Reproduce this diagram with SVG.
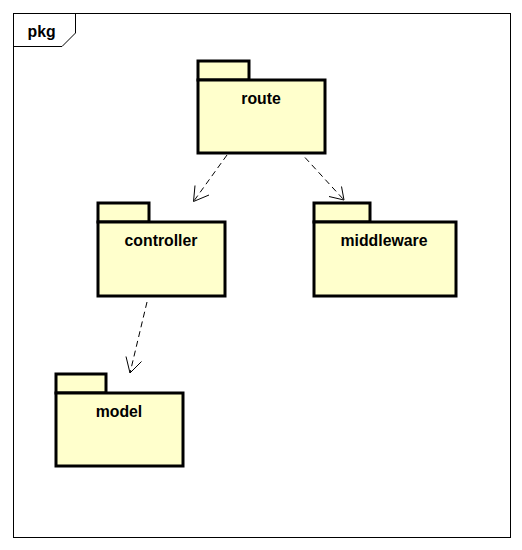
<svg xmlns="http://www.w3.org/2000/svg" width="522" height="550" viewBox="0 0 522 550">
<style>
.pk{fill:#ffffcc;stroke:#000;stroke-width:3}
.lb{font-family:"Liberation Sans",Arial,sans-serif;font-weight:bold;font-size:15.8px;text-anchor:middle;fill:#000}
.dep{fill:none;stroke:#000;stroke-width:1;stroke-dasharray:6,4}
.hd{fill:none;stroke:#000;stroke-width:1}
</style>
<rect width="522" height="550" fill="#fff"/>
<g id="frame">
<rect x="13.5" y="13.5" width="497" height="524" fill="none" stroke="#000" stroke-width="1"/>
<polyline points="13.5,46.5 62,46.5 75.5,33 75.5,13.5" fill="none" stroke="#000" stroke-width="1"/>
<text x="27.5" y="37" font-family="Liberation Sans,Arial,sans-serif" font-weight="bold" font-size="15.8" fill="#000">pkg</text>
</g>
<g id="route">
<rect class="pk" x="198" y="61" width="51" height="19"/>
<rect class="pk" x="198" y="80" width="127" height="73"/>
<text class="lb" x="261" y="104">route</text>
</g>
<g id="controller">
<rect class="pk" x="98" y="203" width="51" height="19"/>
<rect class="pk" x="98" y="222" width="127" height="74"/>
<text class="lb" x="161" y="246">controller</text>
</g>
<g id="middleware">
<rect class="pk" x="314" y="203" width="56" height="19"/>
<rect class="pk" x="314" y="222" width="142" height="74"/>
<text class="lb" x="384" y="246">middleware</text>
</g>
<g id="model">
<rect class="pk" x="56" y="374" width="50" height="19"/>
<rect class="pk" x="56" y="393" width="127" height="73"/>
<text class="lb" x="119" y="417">model</text>
</g>
<g id="connectors">
<line class="dep" x1="227" y1="155" x2="193.5" y2="201.5"/>
<polyline class="hd" points="195,185.5 193.5,201.5 209,195"/>
<line class="dep" x1="305" y1="157.5" x2="344" y2="200"/>
<polyline class="hd" points="341.5,186.5 344,200 329,196.5"/>
<line class="dep" x1="147" y1="302" x2="130" y2="373"/>
<polyline class="hd" points="126,356.5 130,373 141.5,361.5"/>
</g>
</svg>
